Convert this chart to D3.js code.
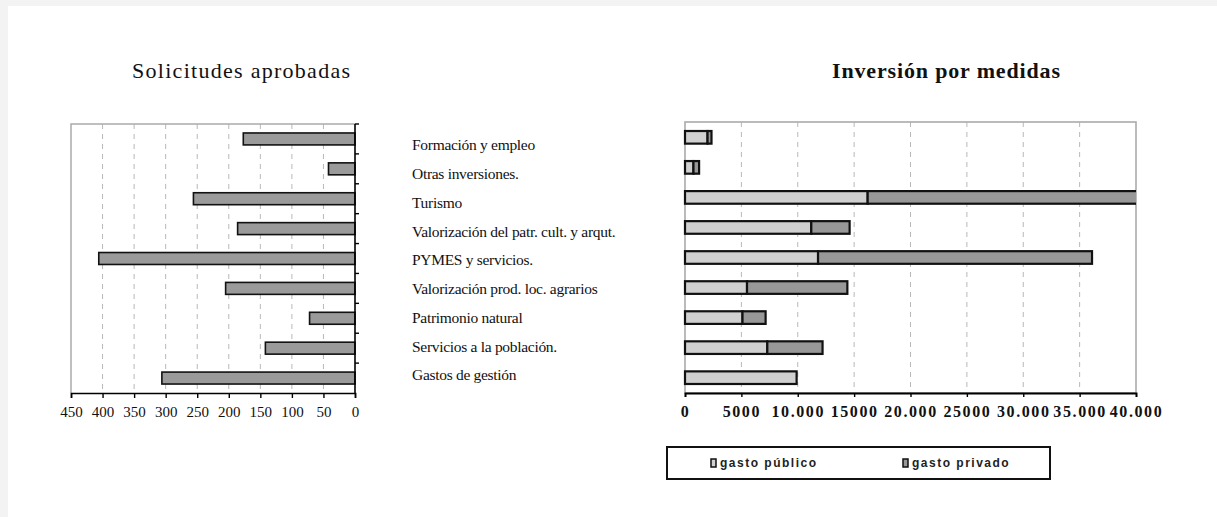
<!DOCTYPE html>
<html><head><meta charset="utf-8">
<script src="https://cdn.jsdelivr.net/npm/d3@7"></script>
<style>
html,body{margin:0;padding:0;background:#f3f3f3;}
svg{display:block;}
</style></head>
<body>
<svg id="c" width="1217" height="517"></svg>
<script>
const categories = ["Formación y empleo","Otras inversiones.","Turismo","Valorización del patr. cult. y arqut.","PYMES y servicios.","Valorización prod. loc. agrarios","Patrimonio natural","Servicios a la población.","Gastos de gestión"];
const solicitudes = [177, 42, 256, 186, 406, 205, 72, 142, 306];
const gastoPublico = [2000, 750, 16200, 11200, 11800, 5500, 5100, 7300, 9900];
const gastoPrivado = [350, 500, 25000, 3400, 24300, 8900, 2050, 4900, 0];
const leftTicks = [450,400,350,300,250,200,150,100,50,0];
const rightTicks = [0,5000,10000,15000,20000,25000,30000,35000,40000];
const rightTickLabels = ["0","5000","10.000","15000","20.000","25000","30.000","35.000","40.000"];
const seriesNames = ["gasto público","gasto privado"];
const titles = ["Solicitudes aprobadas","Inversión por medidas"];

const svg = d3.select("#c");
svg.append("rect").attr("x",8).attr("y",6).attr("width",1209).attr("height",511).attr("fill","#fff");

const serif = "'Liberation Serif','Times New Roman',serif";
const sans = "'Liberation Sans',Arial,sans-serif";

// ---------- LEFT CHART ----------
const L = {x0:71, x1:355, y0:124, y1:393};
const xL = d3.scaleLinear().domain([0,450]).range([L.x1, L.x0]);
const yL = d3.scaleBand().domain(categories).range([L.y0, L.y1]).paddingInner(0.6).paddingOuter(0.3);
const yLb = d3.scaleBand().domain(categories).range([L.y0, L.y1]);

const gL = svg.append("g");
gL.selectAll("line.grid").data(leftTicks.filter(t=>t>0 && t<450)).join("line")
  .attr("x1",d=>xL(d)).attr("x2",d=>xL(d)).attr("y1",L.y0).attr("y2",L.y1)
  .attr("stroke","#b8b8b8").attr("stroke-dasharray","5,5").attr("stroke-width",1);
gL.append("path").attr("d",`M${L.x0},${L.y1}V${L.y0}H${L.x1}`).attr("fill","none").attr("stroke","#aaa").attr("stroke-width",1.5);
gL.selectAll("rect.bar").data(categories).join("rect")
  .attr("x",(d,i)=>xL(solicitudes[i])).attr("width",(d,i)=>xL(0)-xL(solicitudes[i]))
  .attr("y",d=>yL(d)).attr("height",yL.bandwidth())
  .attr("fill","#9a9a9a").attr("stroke","#111").attr("stroke-width",1.6);
const axL = d3.axisBottom(xL).tickValues(leftTicks).tickSize(5).tickFormat(d3.format("d"));
const gaxL = gL.append("g").attr("transform",`translate(0,${L.y1})`).call(axL);
gaxL.select(".domain").attr("stroke","#000").attr("stroke-width",1.6);
gaxL.selectAll(".tick line").attr("stroke","#000").attr("stroke-width",1.4);
gaxL.selectAll("text").attr("font-family",serif).attr("font-size",15).attr("fill","#111").attr("dy","1.05em");
gL.append("line").attr("x1",L.x1).attr("x2",L.x1).attr("y1",L.y0).attr("y2",L.y1).attr("stroke","#000").attr("stroke-width",1.6);
gL.selectAll("line.ctick").data(categories).join("line")
  .attr("x1",L.x1).attr("x2",L.x1+4).attr("y1",d=>yLb(d)).attr("y2",d=>yLb(d))
  .attr("stroke","#000").attr("stroke-width",1.4);
svg.append("text").attr("x",241).attr("y",78).attr("text-anchor","middle")
  .attr("font-family",serif).attr("font-size",22).attr("fill","#111")
  .attr("textLength",218).attr("lengthAdjust","spacing").text(titles[0]);

// ---------- CATEGORY LABELS ----------
const yLab = d3.scaleBand().domain(categories).range([130.6, 389.4]);
svg.append("g").selectAll("text").data(categories).join("text")
  .attr("x",412).attr("y",d=>yLab(d)+yLab.bandwidth()/2).attr("dy","0.35em")
  .attr("font-family",serif).attr("font-size",15.5).attr("fill","#111").attr("letter-spacing","-0.3")
  .text(d=>d);

// ---------- RIGHT CHART ----------
const R = {x0:685, x1:1136, y0:122, y1:393};
const xR = d3.scaleLinear().domain([0,40000]).range([R.x0, R.x1]);
const yR = d3.scaleBand().domain(categories).range([R.y0, R.y1]).paddingInner(0.58).paddingOuter(0.3);
const gR = svg.append("g");
gR.append("defs").append("clipPath").attr("id","clipR").append("rect")
  .attr("x",R.x0-3).attr("y",R.y0).attr("width",R.x1-R.x0+3).attr("height",R.y1-R.y0);
gR.selectAll("line.grid").data(rightTicks.filter(t=>t>0 && t<40000)).join("line")
  .attr("x1",d=>xR(d)).attr("x2",d=>xR(d)).attr("y1",R.y0).attr("y2",R.y1)
  .attr("stroke","#b8b8b8").attr("stroke-dasharray","5,5").attr("stroke-width",1);
gR.append("rect").attr("x",R.x0).attr("y",R.y0).attr("width",R.x1-R.x0).attr("height",R.y1-R.y0)
  .attr("fill","none").attr("stroke","#aaa").attr("stroke-width",1.6);
const stackData = categories.map((c,i)=>({cat:c, pub:gastoPublico[i], priv:gastoPrivado[i]}));
const stacked = d3.stack().keys(["pub","priv"])(stackData);
const colors = ["#d0d0d0","#989898"];
const barsG = gR.append("g").attr("clip-path","url(#clipR)");
stacked.forEach((layer,k)=>{
  barsG.selectAll("rect.s"+k).data(layer.filter(d=>d[1]>d[0])).join("rect")
    .attr("x",d=>xR(d[0])).attr("width",d=>xR(d[1])-xR(d[0]))
    .attr("y",d=>yR(d.data.cat)).attr("height",yR.bandwidth())
    .attr("fill",colors[k]).attr("stroke","#111").attr("stroke-width",2.2);
});
const axR = d3.axisBottom(xR).tickValues(rightTicks).tickSize(4).tickFormat((d,i)=>rightTickLabels[i]);
const gaxR = gR.append("g").attr("transform",`translate(0,${R.y1})`).call(axR);
gaxR.select(".domain").attr("stroke","#000").attr("stroke-width",1.8);
gaxR.selectAll(".tick line").attr("stroke","#000").attr("stroke-width",1.4);
gaxR.selectAll("text").attr("font-family",serif).attr("font-size",16).attr("font-weight","bold")
  .attr("fill","#111").attr("letter-spacing","1.6").attr("dy","1.05em");
svg.append("text").attr("x",946).attr("y",78).attr("text-anchor","middle")
  .attr("font-family",serif).attr("font-size",22).attr("font-weight","bold").attr("fill","#111")
  .attr("textLength",228).attr("lengthAdjust","spacing").text(titles[1]);

// ---------- LEGEND ----------
const lg = svg.append("g");
lg.append("rect").attr("x",667).attr("y",447).attr("width",383).attr("height",32)
  .attr("fill","#fff").attr("stroke","#111").attr("stroke-width",2);
const legX = d3.scalePoint().domain(seriesNames).range([711, 903]);
seriesNames.forEach((n,k)=>{
  lg.append("rect").attr("x",legX(n)).attr("y",459).attr("width",5).attr("height",8)
    .attr("fill",colors[k]).attr("stroke","#111").attr("stroke-width",1.5);
  lg.append("text").attr("x",legX(n)+9).attr("y",463).attr("dy","0.35em")
    .attr("font-family",sans).attr("font-size",12).attr("font-weight","bold").attr("fill","#222")
    .attr("letter-spacing","1.5").text(n);
});
</script>
</body></html>
